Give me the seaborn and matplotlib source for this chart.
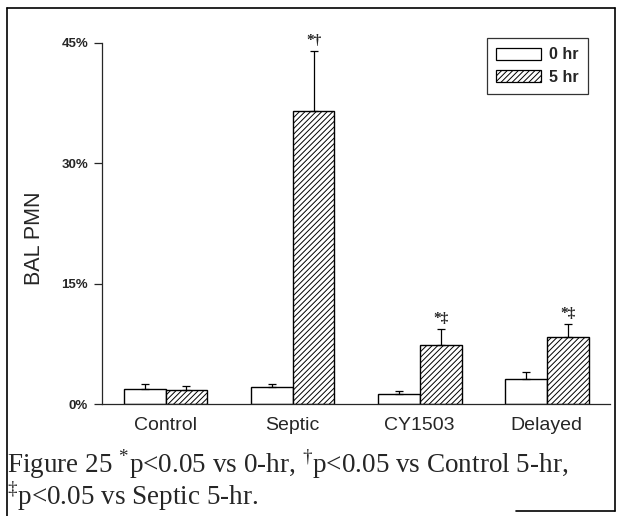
import matplotlib
matplotlib.use('Agg')
import matplotlib.pyplot as plt
from matplotlib.lines import Line2D
from matplotlib.patches import Patch
from matplotlib.ticker import FuncFormatter
import seaborn as sns
import pandas as pd

# 数据 (BAL PMN, %)
groups = ['Control', 'Septic', 'CY1503', 'Delayed']
hours = ['0 hr', '5 hr']
pmn_0hr = [1.9, 2.1, 1.3, 3.1]
pmn_5hr = [1.75, 36.5, 7.3, 8.4]
sem_0hr = [0.6, 0.4, 0.3, 0.9]
sem_5hr = [0.45, 7.5, 2.0, 1.6]
marks_5hr = ['', '*\u2020', '*\u2021', '*\u2021']

sns.set_style('white')
plt.rcParams['font.family'] = ['Liberation Sans', 'DejaVu Sans']
plt.rcParams['mathtext.fontset'] = 'custom'
plt.rcParams['mathtext.rm'] = 'Liberation Serif'
plt.rcParams['hatch.linewidth'] = 0.7

df = pd.DataFrame({
    'group': groups * 2,
    'hour': [hours[0]] * 4 + [hours[1]] * 4,
    'pmn': pmn_0hr + pmn_5hr,
    'sem': sem_0hr + sem_5hr,
})

fig = plt.figure(figsize=(6.22, 5.16), dpi=100)
ax = fig.add_axes([0.164, 0.217, 0.817, 0.700])

sns.barplot(data=df, x='group', y='pmn', hue='hour', order=groups, hue_order=hours,
            palette=['white', 'white'], edgecolor='black', linewidth=1.0,
            width=0.66, errorbar=None, legend=False, ax=ax)

# 5 hr 加斜线
bars0 = ax.patches[:4]
bars5 = ax.patches[4:8]
for b in bars5:
    b.set_hatch('//////')

# 误差线（只画上半部分）
for bars, vals, errs in [(bars0, pmn_0hr, sem_0hr), (bars5, pmn_5hr, sem_5hr)]:
    xs = [b.get_x() + b.get_width() / 2 for b in bars]
    ax.errorbar(xs, vals, yerr=[[0] * 4, errs], fmt='none', ecolor='black',
                elinewidth=0.9, capsize=3, capthick=0.9)

# 显著性标记
for b, v, e, m in zip(bars5, pmn_5hr, sem_5hr, marks_5hr):
    if m:
        ax.text(b.get_x() + b.get_width() / 2, v + e + 0.5, m, ha='center', va='bottom',
                fontsize=11, fontweight='bold', clip_on=False,
                family=['Liberation Serif', 'DejaVu Serif'])

ax.set_ylim(0, 45)
ax.set_xlim(-0.5, 3.5)
ax.set_yticks([0, 15, 30, 45])
ax.yaxis.set_major_formatter(FuncFormatter(lambda v, p: f'{v:.0f}%'))
ax.tick_params(axis='y', direction='out', length=6, width=0.9, labelsize=9.5, pad=4, left=True)
ax.tick_params(axis='x', length=0, labelsize=14, pad=9)
for lab in ax.get_yticklabels():
    lab.set_fontweight('bold')
ax.set_xlabel('')
ax.set_ylabel('BAL PMN', fontsize=15.5)
ax.yaxis.set_label_coords(-0.112, 0.46)
sns.despine(ax=ax)
ax.spines['left'].set_linewidth(0.9)
ax.spines['bottom'].set_linewidth(0.9)

handles = [Patch(facecolor='white', edgecolor='black', linewidth=0.9),
           Patch(facecolor='white', edgecolor='black', linewidth=0.9, hatch='//////')]
leg = ax.legend(handles, hours, loc='upper right', bbox_to_anchor=(0.957, 1.014),
                frameon=True, fancybox=False, edgecolor='black', fontsize=11.5,
                handlelength=2.8, handleheight=0.8, borderpad=0.6, labelspacing=0.45,
                handletextpad=0.5, borderaxespad=0)
leg.get_frame().set_linewidth(0.9)
for t in leg.get_texts():
    t.set_fontweight('bold')

# 图注
fig.text(0.012, 1 - 473 / 516, r'Figure 25 $^{*}$p<0.05 vs 0-hr, $^{\dagger}$p<0.05 vs Control 5-hr,',
         fontsize=19.5, family='Liberation Serif', va='baseline')
fig.text(0.012, 1 - 505 / 516, r'$^{\ddagger}$p<0.05 vs Septic 5-hr.',
         fontsize=19.5, family='Liberation Serif', va='baseline')

# 外框
for xs, ys in [([0.012, 0.012], [0.0, 0.985]), ([0.012, 0.988], [0.985, 0.985]),
               ([0.988, 0.988], [0.985, 0.01]), ([0.83, 0.988], [0.01, 0.01])]:
    fig.add_artist(Line2D(xs, ys, color='black', linewidth=1.2, transform=fig.transFigure))

fig.savefig('out.png', dpi=100)
